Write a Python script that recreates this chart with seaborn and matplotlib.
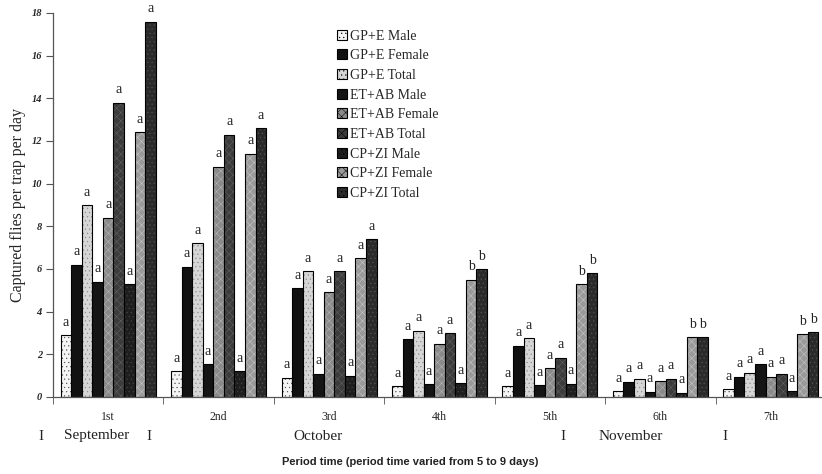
import matplotlib
matplotlib.use("Agg")
import matplotlib.pyplot as plt
from matplotlib.patches import Patch
import seaborn as sns
import pandas as pd

periods = ["1st", "2nd", "3rd", "4th", "5th", "6th", "7th"]
series = ["GP+E Male", "GP+E Female", "GP+E Total",
          "ET+AB Male", "ET+AB Female", "ET+AB Total",
          "CP+ZI Male", "CP+ZI Female", "CP+ZI Total"]

gpe_male     = [2.9, 1.2, 0.9, 0.5, 0.5, 0.28, 0.36]
gpe_female   = [6.2, 6.1, 5.1, 2.7, 2.4, 0.72, 0.95]
gpe_total    = [9.0, 7.2, 5.9, 3.1, 2.75, 0.86, 1.14]
etab_male    = [5.4, 1.55, 1.1, 0.6, 0.56, 0.25, 1.53]
etab_female  = [8.4, 10.8, 4.9, 2.5, 1.35, 0.75, 0.95]
etab_total   = [13.8, 12.3, 5.9, 3.0, 1.84, 0.86, 1.1]
cpzi_male    = [5.3, 1.2, 1.0, 0.65, 0.62, 0.2, 0.28]
cpzi_female  = [12.4, 11.4, 6.5, 5.5, 5.3, 2.8, 2.95]
cpzi_total   = [17.6, 12.6, 7.4, 6.0, 5.8, 2.8, 3.05]

letters_gpe_male    = ["a"] * 7
letters_gpe_female  = ["a"] * 7
letters_gpe_total   = ["a"] * 7
letters_etab_male   = ["a"] * 7
letters_etab_female = ["a"] * 7
letters_etab_total  = ["a"] * 7
letters_cpzi_male   = ["a"] * 7
letters_cpzi_female = ["a", "a", "a", "b", "b", "b", "b"]
letters_cpzi_total  = ["a", "a", "a", "b", "b", "b", "b"]

months = ["September", "October", "November"]
y_ticks = [0, 2, 4, 6, 8, 10, 12, 14, 16, 18]

values = [gpe_male, gpe_female, gpe_total, etab_male, etab_female,
          etab_total, cpzi_male, cpzi_female, cpzi_total]
letters = [letters_gpe_male, letters_gpe_female, letters_gpe_total,
           letters_etab_male, letters_etab_female, letters_etab_total,
           letters_cpzi_male, letters_cpzi_female, letters_cpzi_total]

rows = []
for s, vals in zip(series, values):
    for p, v in zip(periods, vals):
        rows.append({"period": p, "series": s, "value": v})
df = pd.DataFrame(rows)

faces = ["#f4f4f4", "#111111", "#d6d6d6", "#151515", "#8a8a8a",
         "#3c3c3c", "#1e1e1e", "#9a9a9a", "#2a2a2a"]
hatches = ["....", None, "....", None, "xxxx", "xxxx", "....", "xxxx", "...."]
hatch_colors = ["#555555", None, "#888888", None, "#bbbbbb", "#666666",
                "#444444", "#cccccc", "#555555"]

sns.set_style("white")
plt.rcParams["hatch.linewidth"] = 0.35
serif = ["Liberation Serif", "DejaVu Serif"]

fig = plt.figure(figsize=(8.22, 4.74), dpi=100)
ax = fig.add_axes([53 / 822, (474 - 397) / 474, (826 - 53) / 822, 384 / 474])

sns.barplot(data=df, x="period", y="value", hue="series", order=periods,
            hue_order=series, palette=faces, width=0.86, errorbar=None,
            edgecolor="black", linewidth=0.8, legend=False, ax=ax, saturation=1)

for i, cont in enumerate(ax.containers):
    for bar, let in zip(cont, letters[i]):
        if hatches[i]:
            bar.set_hatch(hatches[i])
            bar._hatch_color = matplotlib.colors.to_rgba(hatch_colors[i])
        bx = bar.get_x() + bar.get_width() / 2
        ax.text(bx, bar.get_height() + 0.3, let, ha="center", va="bottom",
                fontsize=10, family=serif, color="#222222")

ax.set_xlim(-0.5, 6.5)
ax.set_ylim(0, 18)
ax.set_yticks(y_ticks)
ax.set_yticklabels([str(t) for t in y_ticks], family=serif, style="italic",
                   fontweight="bold", fontsize=7.5)
ax.set_xticks(range(len(periods)))
ax.set_xticklabels(periods, family=serif, fontsize=8.5)
ax.set_xticks([i - 0.5 for i in range(len(periods) + 1)], minor=True)
ax.tick_params(axis="x", which="major", length=0, pad=10)
ax.tick_params(axis="x", which="minor", length=5, direction="out",
               color="#555555", bottom=True)
ax.tick_params(axis="y", length=5, direction="out", color="#555555", left=True,
               pad=3)
ax.set_xlabel("")
ax.set_ylabel("Captured flies per trap per day", family=serif, fontsize=11.5,
              labelpad=4)
for side in ["top", "right"]:
    ax.spines[side].set_visible(False)
for side in ["left", "bottom"]:
    ax.spines[side].set_color("#555555")
    ax.spines[side].set_linewidth(0.9)

handles = []
for i, s in enumerate(series):
    h = Patch(facecolor=faces[i], edgecolor="black", linewidth=0.8,
              hatch=hatches[i], label=s)
    handles.append(h)
leg = fig.legend(handles=handles, loc="upper left",
                 bbox_to_anchor=(331 / 822, 1 - 24 / 474), frameon=False,
                 prop={"family": serif, "size": 10}, handlelength=0.75,
                 handleheight=0.75, handletextpad=0.25, labelspacing=0.48,
                 borderaxespad=0)

ty = 1 - 436 / 474
mkw = dict(family=serif, fontsize=11, ha="center", va="center", color="#222222")
fig.text(41 / 822, ty, "I", **mkw)
fig.text(97 / 822, ty, months[0], **mkw)
fig.text(149 / 822, ty, "I", **mkw)
fig.text(318 / 822, ty, months[1], **mkw)
fig.text(563 / 822, ty, "I", **mkw)
fig.text(631 / 822, ty, months[2], **mkw)
fig.text(725 / 822, ty, "I", **mkw)

fig.text(410 / 822, 1 - 462 / 474,
         "Period time (period time varied from 5 to 9 days)",
         family=["Liberation Sans", "DejaVu Sans"], fontweight="bold",
         fontsize=8, ha="center", va="center", color="#222222")

fig.savefig("out.png", dpi=100)
